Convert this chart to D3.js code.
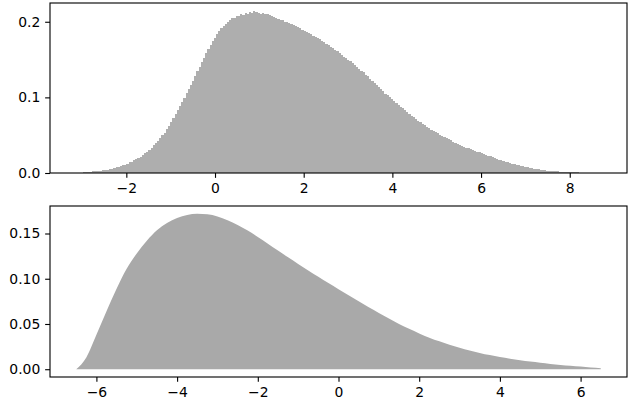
<!DOCTYPE html>
<html><head><meta charset="utf-8">
<script src="https://cdn.jsdelivr.net/npm/d3@7"></script>
<style>body{margin:0;background:#fff}svg{display:block}</style>
</head><body>
<script>
// ---- data: top histogram (density per bin) ----
const histStart = -3.13, histEnd = 8.70;
const histValues = [
0.0003,0.0004,0.0006,0.0009,0.0012,0.0015,0.0017,0.0020,0.0022,0.0025,0.0028,0.0031,0.0036,0.0040,0.0046,0.0052,0.0058,0.0066,0.0073,0.0082,
0.0091,0.0100,0.0112,0.0124,0.0139,0.0152,0.0167,0.0183,0.0198,0.0216,0.0236,0.0258,0.0282,0.0306,0.0335,0.0364,0.0393,0.0425,0.0460,0.0497,
0.0535,0.0580,0.0625,0.0671,0.0722,0.0776,0.0829,0.0884,0.0942,0.0998,0.1052,0.1105,0.1163,0.1221,0.1281,0.1345,0.1402,0.1468,0.1527,0.1586,
0.1640,0.1693,0.1748,0.1790,0.1838,0.1874,0.1912,0.1947,0.1975,0.2001,0.2018,0.2046,0.2055,0.2072,0.2080,0.2096,0.2089,0.2112,0.2105,0.2128,
0.2118,0.2141,0.2126,0.2119,0.2108,0.2115,0.2097,0.2103,0.2084,0.2071,0.2063,0.2049,0.2041,0.2026,0.2021,0.2002,0.1995,0.1979,0.1968,0.1955,
0.1942,0.1925,0.1911,0.1897,0.1880,0.1866,0.1848,0.1834,0.1817,0.1801,0.1786,0.1768,0.1749,0.1730,0.1712,0.1691,0.1672,0.1650,0.1631,0.1607,
0.1585,0.1562,0.1540,0.1519,0.1497,0.1475,0.1452,0.1429,0.1401,0.1378,0.1352,0.1329,0.1301,0.1277,0.1248,0.1223,0.1191,0.1165,0.1134,0.1107,
0.1079,0.1051,0.1027,0.1003,0.0978,0.0954,0.0930,0.0905,0.0878,0.0854,0.0828,0.0805,0.0780,0.0758,0.0735,0.0713,0.0691,0.0669,0.0650,0.0630,
0.0612,0.0594,0.0575,0.0558,0.0539,0.0523,0.0507,0.0492,0.0476,0.0461,0.0446,0.0431,0.0416,0.0401,0.0387,0.0373,0.0360,0.0348,0.0336,0.0325,
0.0314,0.0303,0.0293,0.0283,0.0273,0.0263,0.0252,0.0241,0.0231,0.0220,0.0209,0.0198,0.0187,0.0177,0.0167,0.0157,0.0149,0.0140,0.0131,0.0123,
0.0116,0.0108,0.0101,0.0094,0.0087,0.0081,0.0075,0.0068,0.0062,0.0057,0.0052,0.0047,0.0043,0.0039,0.0036,0.0033,0.0030,0.0027,0.0025,0.0022,
0.0020,0.0018,0.0016,0.0015,0.0013,0.0012,0.0011,0.0009,0.0008,0.0007,0.0006,0.0005,0.0005,0.0004,0.0003,0.0003,0.0002,0.0002,0.0001,0.0001
];
const topXTicks = [-2, 0, 2, 4, 6, 8];
const topYTicks = [0.0, 0.1, 0.2];

// ---- data: bottom density curve ----
const curveX = [-6.5,-6.25,-6.0,-5.75,-5.5,-5.25,-5.0,-4.75,-4.5,-4.25,-4.0,-3.75,-3.5,-3.25,-3.0,-2.75,-2.5,-2.25,-2.0,-1.75,-1.5,-1.25,-1.0,-0.75,-0.5,-0.25,
  0.0,0.25,0.5,0.75,1.0,1.25,1.5,1.75,2.0,2.25,2.5,2.75,3.0,3.25,3.5,3.75,4.0,4.25,4.5,4.75,5.0,5.25,5.5,5.75,6.0,6.25,6.5];
const curveY = [0.000,0.013,0.038,0.064,0.089,0.111,0.128,0.142,0.1535,0.1617,0.1672,0.1705,0.1718,0.1712,0.1688,0.1647,0.1595,0.1533,0.1462,0.1387,0.1312,0.1237,0.1163,0.1092,0.1022,0.0953,
  0.0885,0.0818,0.0751,0.0685,0.0622,0.0560,0.0501,0.0446,0.0395,0.0349,0.0308,0.0271,0.0238,0.0208,0.0180,0.0156,0.0135,0.0117,0.0100,0.0085,0.0072,0.0059,0.0048,0.0038,0.0029,0.0020,0.0012];
const botXTicks = [-6, -4, -2, 0, 2, 4, 6];
const botYTicks = [0.00, 0.05, 0.10, 0.15];

// ---- layout ----
const W = 628, H = 400;
const FONT = "DejaVu Sans, sans-serif";
const svg = d3.select("body").append("svg").attr("width", W).attr("height", H);
const tick = 4.86, pad = 4.86, spineW = 1.11;

function margin5(lo, hi) { const r = hi - lo; return [lo - 0.05 * r, hi + 0.05 * r]; }

function drawAxes(g, x, y, xt, yt, yfmt, box) {
  const xa = d3.axisBottom(x).tickValues(xt).tickSizeInner(tick).tickSizeOuter(0).tickPadding(pad).tickFormat(d3.format("d"));
  const ya = d3.axisLeft(y).tickValues(yt).tickSizeInner(tick).tickSizeOuter(0).tickPadding(pad).tickFormat(d3.format(yfmt));
  const gx = g.append("g").attr("transform", `translate(0,${box.b})`).call(xa);
  const gy = g.append("g").attr("transform", `translate(${box.l},0)`).call(ya);
  [gx, gy].forEach(a => {
    a.select(".domain").remove();
    a.selectAll("line").attr("stroke", "#000").attr("stroke-width", spineW);
    a.selectAll("text").attr("font-family", FONT).attr("font-size", 13.9).attr("fill", "#000");
  });
  g.append("rect").attr("x", box.l).attr("y", box.t).attr("width", box.r - box.l).attr("height", box.b - box.t)
    .attr("fill", "none").attr("stroke", "#000").attr("stroke-width", spineW);
}

// ---- top histogram ----
{
  const box = {l: 50, r: 627, t: 3, b: 173};
  const n = histValues.length, bw = (histEnd - histStart) / n;
  const x = d3.scaleLinear().domain(margin5(histStart, histEnd)).range([box.l, box.r]);
  const ymax = d3.max(histValues) * 1.05;
  const y = d3.scaleLinear().domain([0, ymax]).range([box.b, box.t]);
  const g = svg.append("g");
  g.selectAll("rect.bar").data(histValues).join("rect").attr("class", "bar")
    .attr("x", (d, i) => x(histStart + i * bw))
    .attr("width", x(histStart + bw) - x(histStart) + 0.05)
    .attr("y", d => y(d)).attr("height", d => y(0) - y(d))
    .attr("fill", "#aeaeae").attr("shape-rendering", "crispEdges");
  drawAxes(g, x, y, topXTicks, topYTicks, ".1f", box);
}

// ---- bottom density ----
{
  const box = {l: 50, r: 627, t: 206, b: 377};
  const x = d3.scaleLinear().domain(margin5(d3.min(curveX), d3.max(curveX))).range([box.l, box.r]);
  const y = d3.scaleLinear().domain(margin5(0, d3.max(curveY))).range([box.b, box.t]);
  const g = svg.append("g");
  const pts = curveX.map((v, i) => [v, curveY[i]]);
  g.append("path").datum(pts)
    .attr("d", d3.area().x(d => x(d[0])).y0(y(0)).y1(d => y(d[1])).curve(d3.curveMonotoneX))
    .attr("fill", "#a9a9a9");
  drawAxes(g, x, y, botXTicks, botYTicks, ".2f", box);
}
</script>
</body></html>
